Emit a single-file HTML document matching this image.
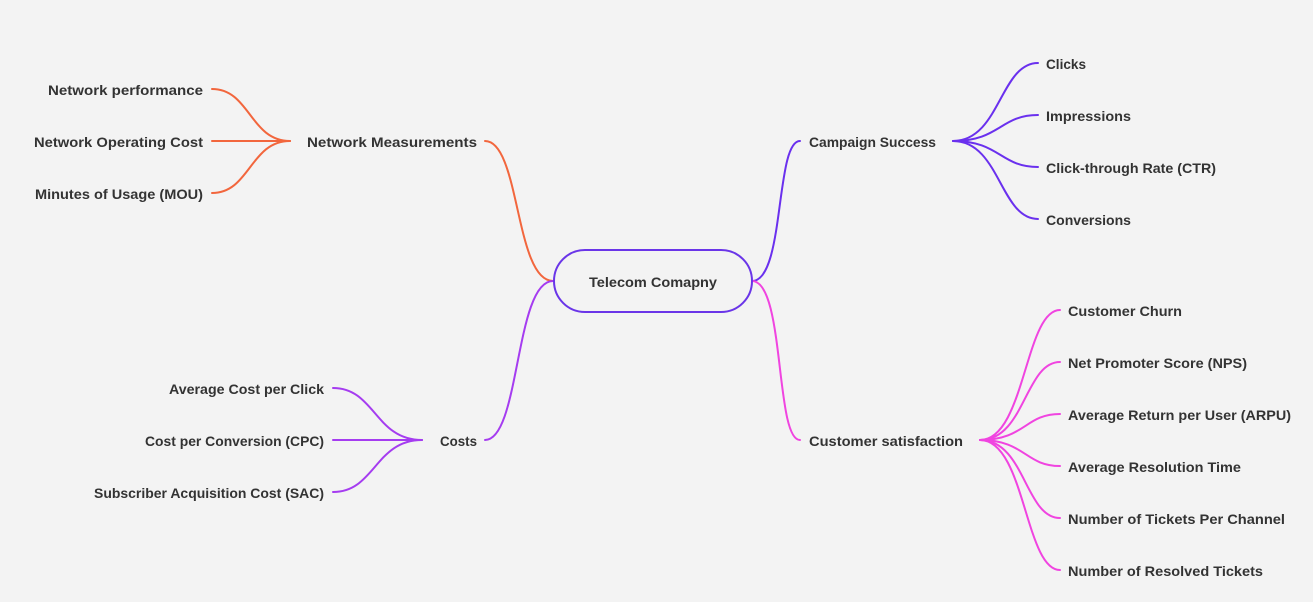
<!DOCTYPE html>
<html><head><meta charset="utf-8"><style>
html,body{margin:0;padding:0;background:#f3f3f3;}
svg{display:block}
text{font-family:"Liberation Sans",Arial,sans-serif;font-weight:bold;font-size:14px;fill:#333;}
</style></head><body>
<svg width="1313" height="602" viewBox="0 0 1313 602" xmlns="http://www.w3.org/2000/svg">
<g fill="none" stroke-width="2" stroke-linecap="round">
<path d="M485,141 C520,141 515,281 553,281" stroke="#f2663d"/>
<path d="M485,440 C520,440 515,281 553,281" stroke="#a53cf0"/>
<path d="M752,281 C785,281 775,141 800,141" stroke="#6a30ee"/>
<path d="M752,281 C785,281 775,440 800,440" stroke="#f044e0"/>
<g stroke="#f2663d">
<path d="M290,141 C250,141 250,89 212,89"/>
<path d="M290,141 L212,141"/>
<path d="M290,141 C250,141 250,193 212,193"/>
</g>
<g stroke="#a53cf0">
<path d="M422,440 C375,440 375,388 333,388"/>
<path d="M422,440 L333,440"/>
<path d="M422,440 C375,440 375,492 333,492"/>
</g>
<g stroke="#6a30ee">
<path d="M953,141 C1000,141 1000,63 1038,63"/>
<path d="M953,141 C1000,141 1000,115 1038,115"/>
<path d="M953,141 C1000,141 1000,167 1038,167"/>
<path d="M953,141 C1000,141 1000,219 1038,219"/>
</g>
<g stroke="#f044e0">
<path d="M980,440 C1025,440 1025,310 1060,310"/>
<path d="M980,440 C1025,440 1025,362 1060,362"/>
<path d="M980,440 C1025,440 1025,414 1060,414"/>
<path d="M980,440 C1025,440 1025,466 1060,466"/>
<path d="M980,440 C1025,440 1025,518 1060,518"/>
<path d="M980,440 C1025,440 1025,570 1060,570"/>
</g>
<rect x="554" y="250" width="198" height="62" rx="31" ry="31" stroke="#6a35e8" fill="#f3f3f3"/>
</g>
<g>
<text x="589" y="287" textLength="128" lengthAdjust="spacingAndGlyphs">Telecom Comapny</text>
<text x="48" y="95" textLength="155" lengthAdjust="spacingAndGlyphs">Network performance</text>
<text x="34" y="147" textLength="169" lengthAdjust="spacingAndGlyphs">Network Operating Cost</text>
<text x="35" y="199" textLength="168" lengthAdjust="spacingAndGlyphs">Minutes of Usage (MOU)</text>
<text x="307" y="147" textLength="170" lengthAdjust="spacingAndGlyphs">Network Measurements</text>
<text x="440" y="446" textLength="37" lengthAdjust="spacingAndGlyphs">Costs</text>
<text x="169" y="394" textLength="155" lengthAdjust="spacingAndGlyphs">Average Cost per Click</text>
<text x="145" y="446" textLength="179" lengthAdjust="spacingAndGlyphs">Cost per Conversion (CPC)</text>
<text x="94" y="498" textLength="230" lengthAdjust="spacingAndGlyphs">Subscriber Acquisition Cost (SAC)</text>
<text x="809" y="147" textLength="127" lengthAdjust="spacingAndGlyphs">Campaign Success</text>
<text x="809" y="446" textLength="154" lengthAdjust="spacingAndGlyphs">Customer satisfaction</text>
<text x="1046" y="69" textLength="40" lengthAdjust="spacingAndGlyphs">Clicks</text>
<text x="1046" y="121" textLength="85" lengthAdjust="spacingAndGlyphs">Impressions</text>
<text x="1046" y="173" textLength="170" lengthAdjust="spacingAndGlyphs">Click-through Rate (CTR)</text>
<text x="1046" y="225" textLength="85" lengthAdjust="spacingAndGlyphs">Conversions</text>
<text x="1068" y="316" textLength="114" lengthAdjust="spacingAndGlyphs">Customer Churn</text>
<text x="1068" y="368" textLength="179" lengthAdjust="spacingAndGlyphs">Net Promoter Score (NPS)</text>
<text x="1068" y="420" textLength="223" lengthAdjust="spacingAndGlyphs">Average Return per User (ARPU)</text>
<text x="1068" y="472" textLength="173" lengthAdjust="spacingAndGlyphs">Average Resolution Time</text>
<text x="1068" y="524" textLength="217" lengthAdjust="spacingAndGlyphs">Number of Tickets Per Channel</text>
<text x="1068" y="576" textLength="195" lengthAdjust="spacingAndGlyphs">Number of Resolved Tickets</text>
</g>
</svg>
</body></html>
